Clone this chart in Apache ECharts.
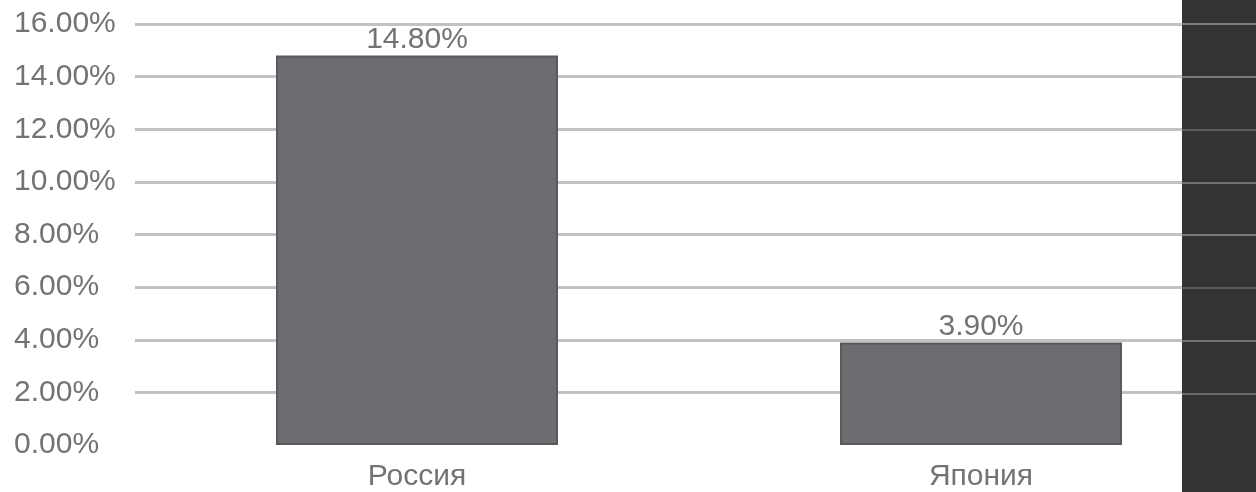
<!DOCTYPE html>
<html><head><meta charset="utf-8">
<script src="https://cdn.jsdelivr.net/npm/echarts@6/dist/echarts.min.js"></script>
<style>html,body{margin:0;padding:0;background:#fff;overflow:hidden}#w{width:1256px;height:492px;overflow:hidden;position:relative}#c{width:1263px;height:492px;position:absolute;left:0;top:0}</style>
</head><body><div id="w"><div id="c"></div></div>
<script>
const categories = ['Россия', 'Япония'];
const values = [14.8, 3.9];
const yMin = 0, yMax = 16, yStep = 2;

const chart = echarts.init(document.getElementById('c'));
const font = 'Liberation Sans, Arial, sans-serif';
const mainLineColors = ['rgba(0,0,0,0)'];
for (let i = 1; i <= 8; i++) mainLineColors.push('#c2c2c2');
const panelLineColors = ['rgba(0,0,0,0)', '#6a6a6a', '#707070', '#5c5c5c', '#7a7a7a', '#707070', '#5c5c5c', '#7a7a7a', '#7a7a7a'];

chart.setOption({
  animation: false,
  backgroundColor: '#ffffff',
  graphic: [{
    type: 'rect', z: 10,
    shape: { x: 1182, y: 0, width: 81, height: 492 },
    style: { fill: '#333335' }
  }],
  grid: [
    { left: 135, right: 0, top: 24, bottom: 46 },
    { left: 1182, right: 0, top: 24, bottom: 46 }
  ],
  xAxis: [
    { type: 'category', data: categories, gridIndex: 0,
      axisLine: { show: false }, axisTick: { show: false },
      axisLabel: { color: '#737373', fontSize: 30, fontFamily: font, margin: 17 } },
    { type: 'value', gridIndex: 1, show: false, min: 0, max: 1 }
  ],
  yAxis: [
    { type: 'value', gridIndex: 0, min: yMin, max: yMax, interval: yStep,
      axisLine: { show: false }, axisTick: { show: false },
      axisLabel: { color: '#737373', fontSize: 30, fontFamily: font, margin: 121, align: 'left',
        formatter: v => v.toFixed(2) + '%' },
      splitLine: { lineStyle: { color: mainLineColors, width: 3 } } },
    { type: 'value', gridIndex: 1, min: yMin, max: yMax, interval: yStep, z: 11,
      axisLine: { show: false }, axisTick: { show: false }, axisLabel: { show: false },
      splitLine: { lineStyle: { color: panelLineColors, width: 2 } } }
  ],
  series: [{
    type: 'bar', data: values, barWidth: '50%', xAxisIndex: 0, yAxisIndex: 0,
    itemStyle: { color: '#6d6c71', borderColor: '#5a595d', borderWidth: 2 },
    label: { show: true, position: 'top', distance: 1, color: '#737373', fontSize: 30,
      fontFamily: font, formatter: p => p.value.toFixed(2) + '%' }
  }]
});
</script></body></html>
